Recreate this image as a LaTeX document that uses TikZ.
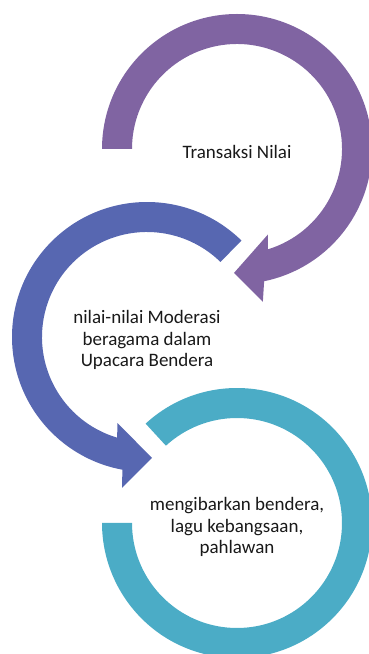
\documentclass[tikz,border=0pt]{standalone}
\usepackage{fontspec}
\setmainfont{Carlito}
\definecolor{cpurple}{HTML}{8064A2}
\definecolor{cblue}{HTML}{5767B1}
\definecolor{cteal}{HTML}{4BACC6}
\begin{document}
\begin{tikzpicture}[x=1pt,y=1pt,
  lbl/.style={align=center,font=\fontsize{19}{21.5}\selectfont,text=black!90,inner sep=0pt}]
\useasboundingbox (0,0) rectangle (368,654);
\coordinate (P) at (237,505);
\coordinate (B) at (147,317);
\coordinate (T) at (237,131);
% purple arrow
\fill[cpurple] ([shift={(180:135)}]P) arc[start angle=180,end angle=-78.4,radius=135]
  -- ([shift={(-80.4:155)}]P) -- ([shift={(-91.4:124)}]P) -- ([shift={(-70.2:91)}]P)
  -- ([shift={(-72.9:105)}]P) arc[start angle=-72.9,end angle=180,radius=105] -- cycle;
% blue arrow
\fill[cblue] ([shift={(45.6:135)}]B) arc[start angle=45.6,end angle=259.5,radius=135]
  -- ([shift={(260.6:153)}]B) -- ([shift={(272.4:121)}]B) -- ([shift={(251:91)}]B)
  -- ([shift={(253.5:105)}]B) arc[start angle=253.5,end angle=45.6,radius=105] -- cycle;
% teal ring
\fill[cteal] ([shift={(132.6:135)}]T) arc[start angle=132.6,end angle=-180,radius=135]
  -- ([shift={(-180:105)}]T) arc[start angle=-180,end angle=132.6,radius=105] -- cycle;
\node[lbl] (n1) at ([yshift=-3]P) {Transaksi Nilai};
\node[lbl] (n2) at ([yshift=-3]B) {nilai-nilai Moderasi\\beragama dalam\\Upacara Bendera};
\node[lbl] (n3) at ([yshift=-4]T) {mengibarkan bendera,\\lagu kebangsaan,\\pahlawan};
\end{tikzpicture}
\end{document}
